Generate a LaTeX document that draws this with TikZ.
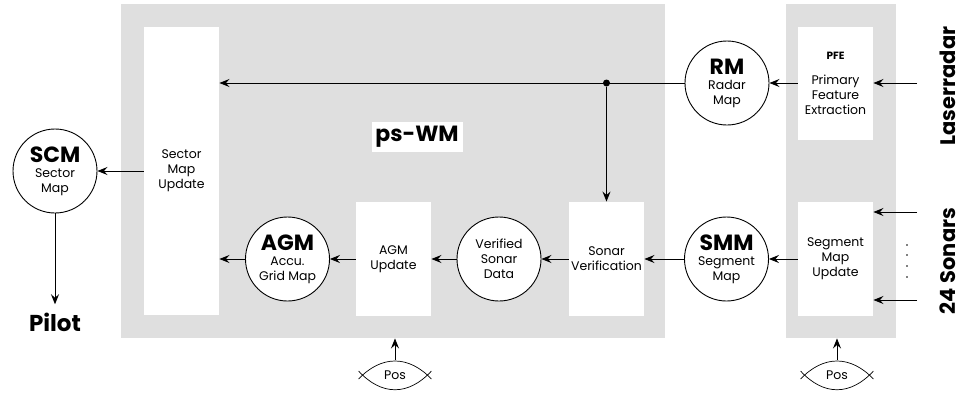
\documentclass[tikz,border=0pt]{standalone}
\usepackage{fontspec}
\setmainfont{Poppins}
\usepackage{xcolor}
\usepackage{tikz}
\usetikzlibrary{positioning,calc}
\usetikzlibrary{arrows.meta}
\definecolor{panelGray}{HTML}{DFDFDF}
\newcommand{\txtFont}{\fontsize{12.5}{15}\selectfont}
\newcommand{\bigFont}{\fontsize{22}{22}\selectfont\bfseries}
\tikzstyle{nodePanel} =[rectangle, fill=panelGray, draw=none, inner sep=0pt]
\tikzstyle{nodeBox}   =[rectangle, fill=white, draw=none, inner sep=0pt, minimum width=75pt, minimum height=114pt, align=center, font=\txtFont]
\tikzstyle{nodeCirc}  =[circle, fill=white, draw, line width=0.9pt, inner sep=0pt, minimum size=84pt, align=center, font=\txtFont]
\tikzstyle{nodePos}   =[inner sep=0pt, minimum width=70pt, minimum height=30pt, font=\txtFont]
\tikzstyle{nodeBig}   =[inner sep=0pt, font=\fontsize{21}{22}\selectfont\bfseries]
\tikzstyle{nodeDot}   =[circle, fill=black, inner sep=0pt, minimum size=7pt]

\begin{document}
\begin{tikzpicture}[x=1pt, y=-1pt, line width=0.9pt,
    >={Stealth[length=10pt, width=8pt, inset=3.5pt]}]
      \useasboundingbox (0,0) rectangle (964,394);
      % panels
      \node[nodePanel, minimum width=544pt, minimum height=334pt] (wm) at (393,171) {};
      \node[nodePanel, minimum width=110pt, minimum height=334pt] (pp) at (841,171) {};
      \node[fill=white, inner sep=0pt, minimum width=91pt, minimum height=30pt,
            font=\fontsize{22}{22}\selectfont\bfseries] (wmlabel) at (417,137) {ps-WM};

      % boxes
      \node[nodeBox, minimum height=288pt] (sector) at (181.5,171) {Sector\\Map\\Update};
      \node[nodeBox] (agmu) at (393.5,259) {AGM\\Update};
      \node[nodeBox] (sv)   at (606.5,259) {Sonar\\Verification};
      \node[nodeBox, minimum height=113pt] (pfe) at (835.5,83)
            {{\bfseries\fontsize{10.5}{12}\selectfont PFE}\\[10pt]Primary\\Feature\\Extraction};
      \node[nodeBox] (smu)  at (835.5,259) {Segment\\Map\\Update};

      % maps
      \node[nodeCirc] (scm) at (55,171)    {{\bigFont SCM}\\Sector\\Map};
      \node[nodeCirc] (agm) at (287.5,259) {{\bigFont AGM}\\Accu.\\Grid Map};
      \node[nodeCirc] (vsd) at (499,259)   {Verified\\Sonar\\Data};
      \node[nodeCirc] (smm) at (726.5,259) {{\bigFont SMM}\\Segment\\Map};
      \node[nodeCirc] (rm)  at (727,83)    {{\bigFont RM}\\Radar\\Map};

      % outer labels
      \node[nodeBig, font=\fontsize{23}{24}\selectfont\bfseries] (pilot) at (55,322) {Pilot};
      \node[nodeBig, rotate=90] (laser)  at (948,86)  {Laserradar};
      \node[nodeBig, rotate=90] (sonars) at (948,261) {24 Sonars};
      \node[nodePos] (posA) at (395,375) {Pos};
      \node[nodePos] (posB) at (837,375) {Pos};
      \foreach \p in {posA,posB}
        \draw[line width=0.7pt]
          ($(\p.west)+(-1,4)$) .. controls ($(\p.west)+(22,-20)$) and ($(\p.east)+(-22,-20)$) .. ($(\p.east)+(1,4)$)
          ($(\p.west)+(-1,-4)$) .. controls ($(\p.west)+(22,21)$) and ($(\p.east)+(-22,21)$) .. ($(\p.east)+(1,-4)$);

      % sensor inputs
      \coordinate (lz) at (917,83);
      \coordinate (s1) at (917,212);
      \coordinate (s2) at (917,300);
      \foreach \y in {245,255,266,277}
        \fill (907,\y) circle (0.8pt);

      % connections
      \node[nodeDot] (jn) at (sv.north |- rm) {};
      \draw[->] (lz) -- (pfe.east |- lz);
      \draw[->] (s1) -- (smu.east |- s1);
      \draw[->] (s2) -- (smu.east |- s2);
      \draw[->] (pfe) -- (rm);
      \draw[->] (rm) -- (sector.east |- rm);
      \draw[->] (jn) -- (sv.north);
      \draw[->] (smu) -- (smm);
      \draw[->] (smm) -- (sv);
      \draw[->] (sv) -- (vsd);
      \draw[->] (vsd) -- (agmu);
      \draw[->] (agmu) -- (agm);
      \draw[->] (agm.west) -- (agm.west -| sector.east);
      \draw[->] (sector.west |- scm) -- (scm);
      \draw[->] (scm) -- ($(pilot.north)+(0,-8)$);
      \draw[->] (posA.north) -- (wm.south -| posA);
      \draw[->] (posB.north) -- (pp.south -| posB);
    \end{tikzpicture}
\end{document}
